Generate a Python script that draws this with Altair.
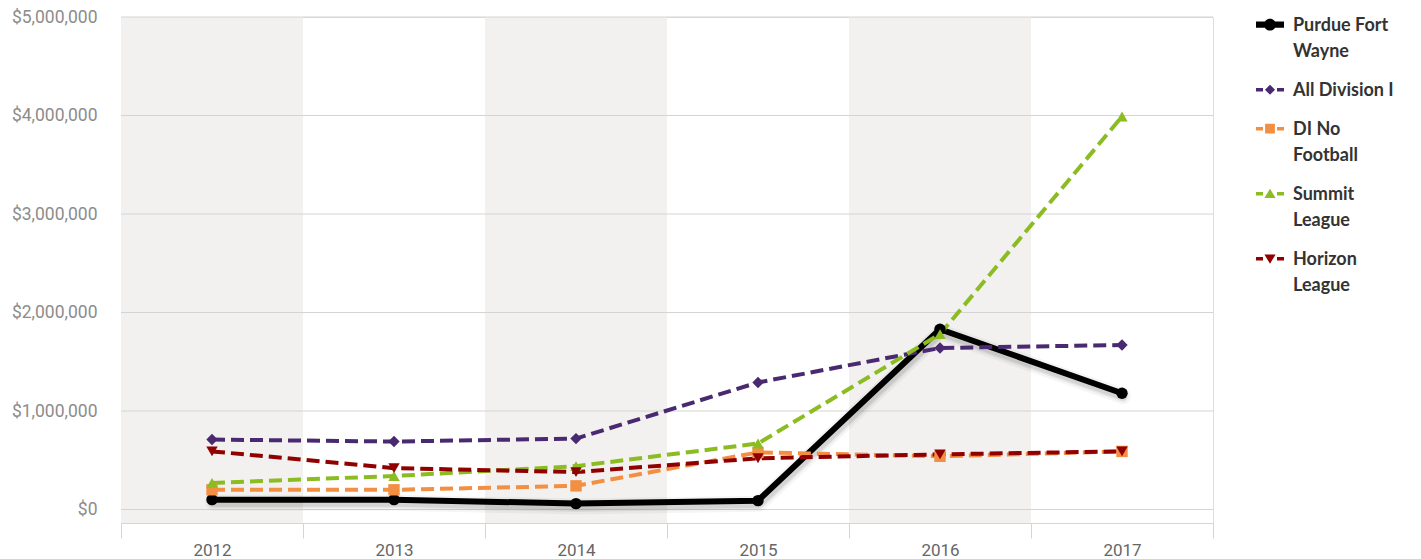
import altair as alt
import pandas as pd

years = ["2012", "2013", "2014", "2015", "2016", "2017"]
series = ["Purdue Fort Wayne", "All Division I", "DI No Football", "Summit League", "Horizon League"]
purdue = [100000, 100000, 60000, 90000, 1830000, 1180000]
all_di = [710000, 690000, 720000, 1290000, 1640000, 1670000]
di_no_fb = [200000, 200000, 240000, 580000, 540000, 590000]
summit = [270000, 340000, 440000, 670000, 1780000, 3990000]
horizon = [590000, 420000, 380000, 520000, 560000, 590000]
y_ticks = [0, 1000000, 2000000, 3000000, 4000000, 5000000]
shaded_years = ["2012", "2014", "2016"]
legend_lines = [["Purdue Fort", "Wayne"], ["All Division I"], ["DI No", "Football"],
                ["Summit", "League"], ["Horizon", "League"]]

colors = ["#000000", "#492970", "#f28f43", "#8bbc21", "#910000"]
shapes = ["circle", "diamond", "square", "triangle-up", "triangle-down"]

# legend symbol paths (line + marker), unit box
dy = -0.45
def bar(x0, x1, h):
    return f"M{x0},{dy - h}L{x1},{dy - h}L{x1},{dy + h}L{x0},{dy + h}Z"
def dashes():
    return bar(-1, -0.5, 0.13) + bar(0.5, 1, 0.13)
sym_paths = [
    bar(-1, -0.3, 0.22) + bar(0.3, 1, 0.22)
    + f"M-0.42,{dy}A0.42,0.42 0 1,1 0.42,{dy}A0.42,0.42 0 1,1 -0.42,{dy}Z",
    dashes() + f"M0,{dy - 0.36}L0.36,{dy}L0,{dy + 0.36}L-0.36,{dy}Z",
    dashes() + bar(-0.35, 0.35, 0.35),
    dashes() + f"M0,{dy - 0.36}L0.4,{dy + 0.3}L-0.4,{dy + 0.3}Z",
    dashes() + f"M0,{dy + 0.36}L-0.4,{dy - 0.3}L0.4,{dy - 0.3}Z",
]

rows = []
for name, vals in zip(series, [purdue, all_di, di_no_fb, summit, horizon]):
    for yr, v in zip(years, vals):
        rows.append({"year": yr, "series": name, "value": v})
df = pd.DataFrame(rows)

label_expr = ""
for name, lines in zip(series, legend_lines):
    arr = "[" + ",".join(f"'{l}'" for l in lines) + "]"
    label_expr += f"datum.label === '{name}' ? {arr} : "
label_expr += "datum.label"

x_enc = alt.X("year:O",
              scale=alt.Scale(domain=years, type="band", paddingInner=0, paddingOuter=0),
              axis=alt.Axis(title=None, labelAngle=0, tickBand="extent", domainColor="#ccd6eb",
                            tickColor="#ccd6eb", tickSize=15, labelFont="Roboto", labelFontSize=17,
                            labelColor="#666666", labelPadding=4, grid=False))
y_scale = alt.Scale(domain=[-137000, 5000000], nice=False, zero=False)
y_enc = alt.Y("value:Q", scale=y_scale,
              axis=alt.Axis(title=None, values=y_ticks, labelExpr="'$' + format(datum.value, ',')",
                            grid=False, domain=False, ticks=False, labelFont="Roboto",
                            labelFontSize=17.5, labelColor="#8c8c8c", labelPadding=24))

legend = alt.Legend(title=None, orient="right", offset=43, padding=0,
                    symbolSize=784, symbolStrokeWidth=0, symbolOpacity=1,
                    labelExpr=label_expr, labelFont="Lato", labelFontSize=18,
                    labelFontWeight="bold", labelColor="#333333",
                    labelBaseline="alphabetic", labelLimit=400, labelOffset=9,
                    rowPadding=21)

bands = alt.Chart(pd.DataFrame({"year": shaded_years})).mark_rect(color="#f2f1f0").encode(x=x_enc)
grid = alt.Chart(pd.DataFrame({"value": y_ticks})).mark_rule(color="#d4d4d4", strokeWidth=1).encode(y=y_enc)

legend_layer = alt.Chart(df).mark_point(filled=True, opacity=0, size=784).encode(
    x=x_enc, y=y_enc,
    color=alt.Color("series:N", scale=alt.Scale(domain=series, range=colors), legend=legend),
    shape=alt.Shape("series:N", scale=alt.Scale(domain=series, range=sym_paths), legend=legend),
)

purdue_df = df[df.series == series[0]]
shadows = [
    alt.Chart(purdue_df).mark_line(color="#000", opacity=op, strokeWidth=w, xOffset=1, yOffset=3,
                                   strokeJoin="round", strokeCap="round").encode(x=x_enc, y=y_enc)
    for w, op in [(16, 0.04), (11, 0.06), (8, 0.08)]
]

line_layers = []
for i, (name, col) in enumerate(zip(series, colors)):
    if i == 0:
        mk = alt.Chart(df[df.series == name]).mark_line(color=col, strokeWidth=6, strokeJoin="round")
    else:
        mk = alt.Chart(df[df.series == name]).mark_line(color=col, strokeWidth=4, strokeDash=[13, 6])
    line_layers.append(mk.encode(x=x_enc, y=y_enc))

point_layers = [
    alt.Chart(df[df.series == name]).mark_point(filled=True, opacity=1, size=130, shape=shp, color=col)
    .encode(x=x_enc, y=y_enc)
    for name, shp, col in zip(series, shapes, colors)
]

chart = alt.layer(bands, grid, legend_layer, *shadows, *line_layers, *point_layers).properties(
    width=1092, height=506, padding={"left": 3, "top": 0, "right": 5, "bottom": 5}
).configure_view(stroke=None).configure(style={"guide-label": {"lineHeight": 26}})

chart.save("out.html", embed_options={"renderer": "svg", "actions": False})
